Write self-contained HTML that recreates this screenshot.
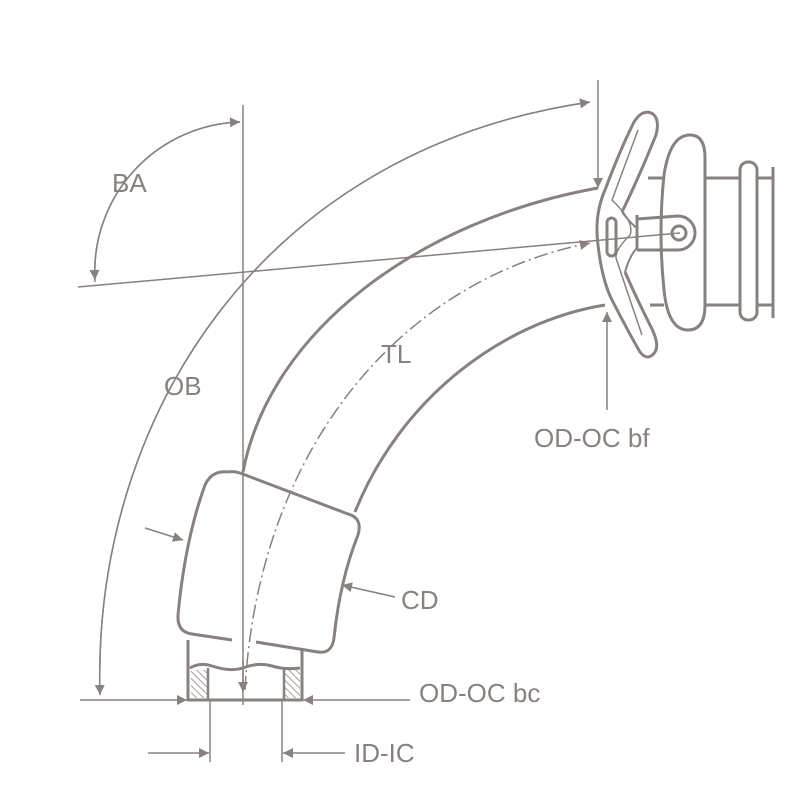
<!DOCTYPE html>
<html><head><meta charset="utf-8"><style>
html,body{margin:0;padding:0;background:#fff;}
svg{display:block;}
text{font-family:"Liberation Sans",sans-serif;font-size:26px;fill:#8a807c;}
</style></head><body>
<svg width="800" height="800" viewBox="0 0 800 800" xmlns="http://www.w3.org/2000/svg">
<defs>
<marker id="a" viewBox="0 0 10 10" refX="10" refY="5" markerWidth="14" markerHeight="10" markerUnits="userSpaceOnUse" orient="auto">
<path d="M0,0 L10,5 L0,10 z" fill="#8a807c"/></marker>
<pattern id="h" width="5" height="5" patternUnits="userSpaceOnUse" patternTransform="rotate(-45)">
<line x1="0" y1="0" x2="0" y2="5" stroke="#8a807c" stroke-width="1.5"/></pattern>
</defs>
<g fill="none" stroke="#8a807c" stroke-width="1.5">
<line x1="243" y1="105" x2="243" y2="705"/>
<line x1="243" y1="660" x2="243" y2="692" marker-end="url(#a)"/>
<line x1="78" y1="287" x2="680" y2="233"/>
<path d="M95,282 A150,150 0 0 1 240,122" marker-end="url(#a)"/>
<path d="M240,122 A150,150 0 0 0 95,280" marker-end="url(#a)"/>
<path d="M100,695 C92,420 260,150 590,102" marker-end="url(#a)"/>
<path d="M590,102 C260,150 92,420 100,695" marker-end="url(#a)"/>
<line x1="598" y1="80" x2="598" y2="188" marker-end="url(#a)"/>
<path d="M245,690 C258,450 400,280 590,243" stroke-dasharray="14,4,2,4" marker-end="url(#a)"/>
<line x1="607" y1="410" x2="607" y2="312" marker-end="url(#a)"/>
<line x1="395" y1="597" x2="342" y2="585" marker-end="url(#a)"/>
<line x1="145" y1="528" x2="183" y2="540" marker-end="url(#a)"/>
<line x1="80" y1="700" x2="187" y2="700" marker-end="url(#a)"/>
<line x1="410" y1="700" x2="303" y2="700" marker-end="url(#a)"/>
<line x1="210" y1="700" x2="210" y2="762"/>
<line x1="282" y1="700" x2="282" y2="762"/>
<line x1="148" y1="753" x2="209" y2="753" marker-end="url(#a)"/>
<line x1="345" y1="753" x2="283" y2="753" marker-end="url(#a)"/>
</g>
<g fill="none" stroke="#8a807c" stroke-width="3" stroke-linejoin="round">
<path d="M243,472 C270,330 420,220 598,188"/>
<path d="M355,512 C400,400 500,322 605,305"/>
<path d="M228,472 Q212,470 205,485 Q185,540 178,615 Q177,632 192,634 L232,640"/>
<path d="M256,642 L318,652 Q332,654 334,638 Q340,580 358,535 Q363,518 348,514 L240,473 Q234,471 228,472"/>
<path d="M188,640 L188,700 L302,700 L302,648"/>
<path d="M190,668 Q200,662 212,666 Q230,672 243,668 Q258,662 272,666 Q285,670 300,668"/>
<path d="M605,190 Q620,150 634,122 Q643,108 653,114 Q660,120 656,135 Q640,175 622,212"/>
<path d="M605,190 Q594,215 598,245 Q602,280 612,300 Q630,335 640,352 Q648,362 655,352 Q660,344 650,325 Q635,295 625,272"/>
<path d="M622,212 Q632,225 637,228 M625,272 Q630,255 637,248" stroke-width="2"/>
<path d="M638,130 Q625,165 612,200 Q635,222 630,235 Q615,250 616,258 Q630,300 642,335" stroke-width="1.5"/>
<rect x="607" y="218" width="9" height="38" rx="4.5"/>
<path d="M637,215 L637,250 M637,219 L678,216 A17,17 0 0 1 678,250 L637,250" />
<circle cx="679" cy="233" r="7"/>
<path d="M690,135 Q705,135 705,158 L705,305 Q705,330 688,330 Q668,330 664,290 Q658,232 664,175 Q670,135 690,135 Z"/>
<line x1="648" y1="178" x2="663" y2="178"/><line x1="650" y1="305" x2="664" y2="305"/>
<path d="M705,178 L740,178 M705,305 L740,305"/>
<rect x="740" y="162" width="17" height="158" rx="8"/>
<path d="M757,178 L773,178 M757,305 L773,305 M773,167 L773,318"/>
</g>
<rect x="191" y="670" width="16" height="28" fill="url(#h)"/>
<rect x="285" y="670" width="15" height="28" fill="url(#h)"/>
<g stroke="#8a807c" stroke-width="2.5"><line x1="208" y1="668" x2="208" y2="700"/><line x1="284" y1="668" x2="284" y2="700"/></g>
<text x="112" y="192">BA</text>
<text x="164" y="395">OB</text>
<text x="381" y="363">TL</text>
<text x="534" y="447">OD-OC bf</text>
<text x="401" y="609">CD</text>
<text x="419" y="702">OD-OC bc</text>
<text x="354" y="762">ID-IC</text>
</svg>
</body></html>
